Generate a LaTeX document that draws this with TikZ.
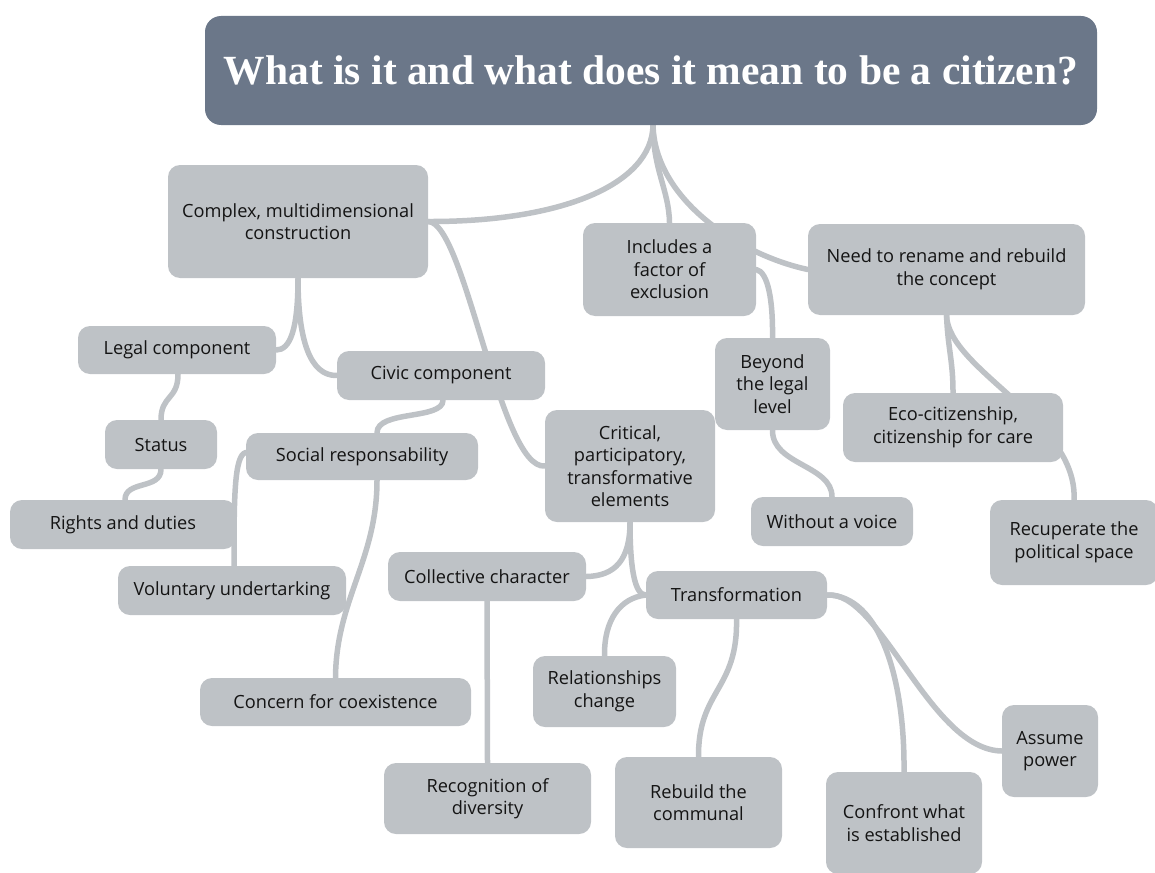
\documentclass[tikz,border=0pt]{standalone}
\usepackage{fontspec}
\setmainfont{Open Sans}
\newfontfamily\titlefont{Liberation Serif}
\usepackage{xcolor}
\usepackage{tikz}
\usetikzlibrary{backgrounds}

\definecolor{boxgrey}{HTML}{BEC2C6}
\definecolor{titleslate}{HTML}{6B7789}
\definecolor{inktext}{HTML}{141414}

\begin{document}
\begin{tikzpicture}[
    x=1pt, y=-1pt,
    every node/.style={font=\fontsize{18.2}{22.5}\selectfont, text=inktext},
    topic/.style={rectangle, fill=boxgrey, rounded corners=12pt, align=center, inner sep=0pt},
    maintopic/.style={rectangle, fill=titleslate, rounded corners=16pt, align=center, inner sep=0pt, text=white, font=\titlefont\bfseries\fontsize{41.5}{44}\selectfont},
    branch/.style={draw=boxgrey, line width=5.5pt, line cap=round}
]
\useasboundingbox (0,0) rectangle (1155,872);

% Central question
\node[maintopic, minimum width=892, minimum height=109] (title) at (651,70.5) {What is it and what does it mean to be a citizen?};

% Left branch - construction
\node[topic, minimum width=260, minimum height=113] (complex) at (298,221.5) {Complex, multidimensional\\construction};
\node[topic, minimum width=198, minimum height=48] (legal) at (177,350) {Legal component};
\node[topic, minimum width=208, minimum height=49] (civic) at (441,375.5) {Civic component};
\node[topic, minimum width=112, minimum height=49] (status) at (161,444.5) {Status};
\node[topic, minimum width=232, minimum height=47] (social) at (362,456.5) {Social responsability};
\node[topic, minimum width=226, minimum height=49] (rights) at (123,524.5) {Rights and duties};
\node[topic, minimum width=228, minimum height=49] (voluntary) at (232,590.5) {Voluntary undertarking};
\node[topic, minimum width=271, minimum height=48] (concern) at (335.5,702) {Concern for coexistence};

% Critical elements
\node[topic, minimum width=170, minimum height=112] (critical) at (630,466) {Critical,\\participatory,\\transformative\\elements};
\node[topic, minimum width=198, minimum height=49] (collective) at (487,576.5) {Collective character};
\node[topic, minimum width=207, minimum height=71] (recognition) at (487.5,798.5) {Recognition of\\diversity};
\node[topic, minimum width=181, minimum height=48] (transf) at (736.5,595) {Transformation};
\node[topic, minimum width=143, minimum height=71] (relations) at (604.5,691.5) {Relationships\\change};
\node[topic, minimum width=167, minimum height=91] (rebuild) at (698.5,802.5) {Rebuild the\\communal};
\node[topic, minimum width=156, minimum height=102] (confront) at (904,823) {Confront what\\is established};
\node[topic, minimum width=96, minimum height=92] (assume) at (1050,751) {Assume\\power};

% Right branch - exclusion and renaming
\node[topic, minimum width=173, minimum height=93] (includes) at (669.5,269.5) {Includes a\\factor of\\exclusion};
\node[topic, minimum width=277, minimum height=91] (rename) at (946.5,269.5) {Need to rename and rebuild\\the concept};
\node[topic, minimum width=115, minimum height=92] (beyond) at (772.5,384) {Beyond\\the legal\\level};
\node[topic, minimum width=162, minimum height=49] (voice) at (832,521.5) {Without a voice};
\node[topic, minimum width=220, minimum height=69] (eco) at (953,427.5) {Eco-citizenship,\\citizenship for care};
\node[topic, minimum width=168, minimum height=85] (recup) at (1074,542.5) {Recuperate the\\political space};

% Branches (behind the boxes)
\begin{pgfonlayer}{background}
\draw[branch] ([xshift=2pt]title.south) .. controls (652,185) and (560,222) .. (complex.east);
\draw[branch] ([xshift=2pt]title.south) .. controls (653,170) and (669,190) .. (includes.north);
\draw[branch] ([xshift=2pt]title.south) .. controls (655,200) and (740,255) .. (rename.west);
\draw[branch] (includes.east) .. controls (768,272) and (773,300) .. (beyond.north);
\draw[branch] (beyond.south) .. controls (772,465) and (832,465) .. (voice.north);
\draw[branch] (rename.south) .. controls (948,350) and (953,360) .. (eco.north);
\draw[branch] (rename.south) .. controls (948,370) and (1078,420) .. (recup.north);

\draw[branch] (complex.south) .. controls (298,330) and (290,350) .. (legal.east);
\draw[branch] (complex.south) .. controls (298,340) and (310,376) .. (civic.west);
\draw[branch] (complex.east) .. controls (465,222) and (500,470) .. (critical.west);
\draw[branch] ([xshift=1pt]legal.south) .. controls (178,400) and (161,395) .. (status.north);
\draw[branch] (status.south) .. controls (161,490) and (125,480) .. ([xshift=2pt]rights.north);
\draw[branch] ([xshift=2pt]civic.south) .. controls (443,420) and (377,410) .. ([xshift=15pt]social.north);
\draw[branch] ([yshift=4pt]social.west) .. controls (234,455) and (234,500) .. ([xshift=2pt]voluntary.north);
\draw[branch] ([xshift=15pt]social.south) .. controls (377,560) and (336,600) .. (concern.north);

\draw[branch] (critical.south) .. controls (630,560) and (615,576) .. (collective.east);
\draw[branch] (critical.south) .. controls (630,570) and (635,595) .. (transf.west);
\draw[branch] (collective.south) -- (recognition.north);
\draw[branch] (transf.west) .. controls (620,598) and (604,620) .. (relations.north);
\draw[branch] (transf.south) .. controls (738,690) and (698,690) .. (rebuild.north);
\draw[branch] (transf.east) .. controls (880,595) and (905,680) .. (confront.north);
\draw[branch] (transf.east) .. controls (880,590) and (930,750) .. (assume.west);
\end{pgfonlayer}

\end{tikzpicture}
\end{document}
